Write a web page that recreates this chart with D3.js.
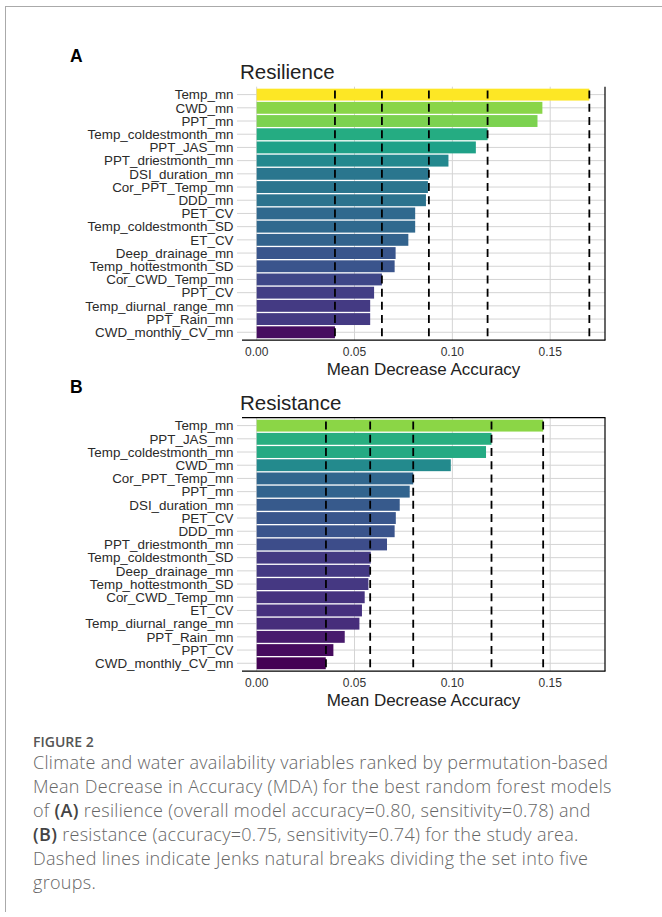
<!DOCTYPE html>
<html>
<head>
  <meta charset="UTF-8">
  <title>Figure 2 - MDA</title>
  <script src="https://cdn.jsdelivr.net/npm/d3@7"></script>
  <style>
    body { margin: 0; background: #fff; }
    svg { display: block; }
    .lab { font-family: "Liberation Sans", Arial, sans-serif; }
    .cap { font-family: "Open Sans", sans-serif; font-weight: 300; fill: #666; letter-spacing: 0.3px; }
  </style>
</head>
<body>
<svg id="fig" width="662" height="917"></svg>
<script>
// ---------------------------------------------------
// data
// ---------------------------------------------------
var resilienceVars = ["Temp_mn", "CWD_mn", "PPT_mn", "Temp_coldestmonth_mn", "PPT_JAS_mn",
  "PPT_driestmonth_mn", "DSI_duration_mn", "Cor_PPT_Temp_mn", "DDD_mn", "PET_CV",
  "Temp_coldestmonth_SD", "ET_CV", "Deep_drainage_mn", "Temp_hottestmonth_SD",
  "Cor_CWD_Temp_mn", "PPT_CV", "Temp_diurnal_range_mn", "PPT_Rain_mn", "CWD_monthly_CV_mn"];
var resilienceMDA = [0.170, 0.146, 0.1435, 0.118, 0.112, 0.098, 0.088, 0.0875, 0.0865, 0.081,
  0.081, 0.0775, 0.071, 0.0705, 0.064, 0.060, 0.058, 0.058, 0.040];
var resilienceBreaks = [0.040, 0.064, 0.088, 0.118, 0.170];

var resistanceVars = ["Temp_mn", "PPT_JAS_mn", "Temp_coldestmonth_mn", "CWD_mn", "Cor_PPT_Temp_mn",
  "PPT_mn", "DSI_duration_mn", "PET_CV", "DDD_mn", "PPT_driestmonth_mn", "Temp_coldestmonth_SD",
  "Deep_drainage_mn", "Temp_hottestmonth_SD", "Cor_CWD_Temp_mn", "ET_CV", "Temp_diurnal_range_mn",
  "PPT_Rain_mn", "PPT_CV", "CWD_monthly_CV_mn"];
var resistanceMDA = [0.1464, 0.120, 0.1172, 0.0992, 0.080, 0.0782, 0.0731, 0.0711, 0.0705, 0.0666,
  0.0583, 0.0578, 0.0571, 0.0552, 0.0538, 0.0525, 0.045, 0.0392, 0.0353];
var resistanceBreaks = [0.0354, 0.058, 0.080, 0.120, 0.1464];

var xTicks = [0, 0.05, 0.10, 0.15];

var captionLines = [
  [["Climate and water availability variables ranked by permutation-based", false]],
  [["Mean Decrease in Accuracy (MDA) for the best random forest models", false]],
  [["of ", false], ["(A)", true], [" resilience (overall model accuracy=0.80, sensitivity=0.78) and", false]],
  [["(B)", true], [" resistance (accuracy=0.75, sensitivity=0.74) for the study area.", false]],
  [["Dashed lines indicate Jenks natural breaks dividing the set into five", false]],
  [["groups.", false]]
];

// ---------------------------------------------------
// drawing
// ---------------------------------------------------
var svg = d3.select("#fig");

// frame of the figure box
svg.append("line").attr("x1", 5.5).attr("x2", 662).attr("y1", 6.5).attr("y2", 6.5)
  .attr("stroke", "#aaa").attr("stroke-width", 1);
svg.append("line").attr("x1", 5.5).attr("x2", 5.5).attr("y1", 6).attr("y2", 912)
  .attr("stroke", "#aaa").attr("stroke-width", 1);

var allVals = resilienceMDA.concat(resistanceMDA);
var color = d3.scaleSequential(d3.interpolateViridis).domain(d3.extent(allVals));

var x = d3.scaleLinear().domain([-0.0075, 0.178]).range([242, 605]);

function drawPanel(letter, title, vars, vals, breaks, top, topLine) {
  var bottom = top + 253.5;
  var y = d3.scalePoint().domain(vars).range([top, bottom]).padding(0.6);
  var step = y.step();
  var g = svg.append("g");

  g.append("text").attr("class", "lab").attr("x", 70).attr("y", top - 25)
    .attr("font-size", 17.5).attr("font-weight", "bold").attr("fill", "#000").text(letter);
  g.append("text").attr("class", "lab").attr("x", 240).attr("y", top - 7.5)
    .attr("font-size", 20.5).attr("fill", "#222").text(title);

  // grid
  g.selectAll(".hg").data(vars).enter().append("line")
    .attr("x1", 237).attr("x2", 605)
    .attr("y1", function (d) { return y(d); }).attr("y2", function (d) { return y(d); })
    .attr("stroke", "#d4d4d4").attr("stroke-width", 1);
  g.selectAll(".vg").data(xTicks).enter().append("line")
    .attr("x1", function (d) { return x(d); }).attr("x2", function (d) { return x(d); })
    .attr("y1", top).attr("y2", bottom)
    .attr("stroke", "#d4d4d4").attr("stroke-width", 1);

  // bars
  g.selectAll(".bar").data(vars).enter().append("rect")
    .attr("x", x(0))
    .attr("y", function (d) { return y(d) - step * 0.45; })
    .attr("height", step * 0.9)
    .attr("width", function (d, i) { return x(vals[i]) - x(0); })
    .attr("fill", function (d, i) { return color(vals[i]); });

  // jenks breaks
  var first = y(vars[0]);
  var dashLen = 8, period = step;
  var d0 = first - dashLen / 2 - top;
  g.selectAll(".brk").data(breaks).enter().append("line")
    .attr("x1", function (d) { return x(d); }).attr("x2", function (d) { return x(d); })
    .attr("y1", top).attr("y2", bottom)
    .attr("stroke", "#000").attr("stroke-width", 1.8)
    .attr("stroke-dasharray", dashLen + " " + (period - dashLen))
    .attr("stroke-dashoffset", period - d0);

  // frame lines
  g.append("line").attr("x1", 242).attr("x2", 605.5).attr("y1", bottom).attr("y2", bottom)
    .attr("stroke", "#000").attr("stroke-width", 1.2);
  g.append("line").attr("x1", 605).attr("x2", 605).attr("y1", top).attr("y2", bottom)
    .attr("stroke", "#000").attr("stroke-width", 1.2);
  if (topLine) {
    g.append("line").attr("x1", 242).attr("x2", 605.5).attr("y1", top).attr("y2", top)
      .attr("stroke", "#000").attr("stroke-width", 1.2);
  }

  // y labels
  g.selectAll(".yl").data(vars).enter().append("text")
    .attr("class", "lab")
    .attr("x", 233.5).attr("y", function (d) { return y(d); })
    .attr("dy", "0.35em").attr("text-anchor", "end")
    .attr("font-size", 13.4).attr("fill", "#2a2a2a")
    .text(function (d) { return d; });

  // x ticks
  g.selectAll(".xl").data(xTicks).enter().append("text")
    .attr("class", "lab")
    .attr("x", function (d) { return x(d); }).attr("y", bottom + 16)
    .attr("text-anchor", "middle").attr("font-size", 12).attr("fill", "#333")
    .text(d3.format(".2f"));
  g.append("text").attr("class", "lab")
    .attr("x", 423.5).attr("y", bottom + 34.5).attr("text-anchor", "middle")
    .attr("font-size", 17).attr("fill", "#222").text("Mean Decrease Accuracy");
}

drawPanel("A", "Resilience", resilienceVars, resilienceMDA, resilienceBreaks, 86.7, false);
drawPanel("B", "Resistance", resistanceVars, resistanceMDA, resistanceBreaks, 417.7, true);

// caption
svg.append("text").attr("x", 33).attr("y", 746.5)
  .attr("font-family", "'Open Sans', sans-serif").attr("font-weight", 600)
  .attr("font-size", 14).attr("fill", "#555").text("FIGURE 2");

var cap = svg.append("g");
captionLines.forEach(function (parts, i) {
  var t = cap.append("text").attr("class", "cap")
    .attr("x", 33).attr("y", 769 + i * 24).attr("font-size", 18);
  parts.forEach(function (p) {
    t.append("tspan").attr("font-weight", p[1] ? 600 : 300)
      .attr("fill", p[1] ? "#444" : "#666").text(p[0]);
  });
});
</script>
</body>
</html>
